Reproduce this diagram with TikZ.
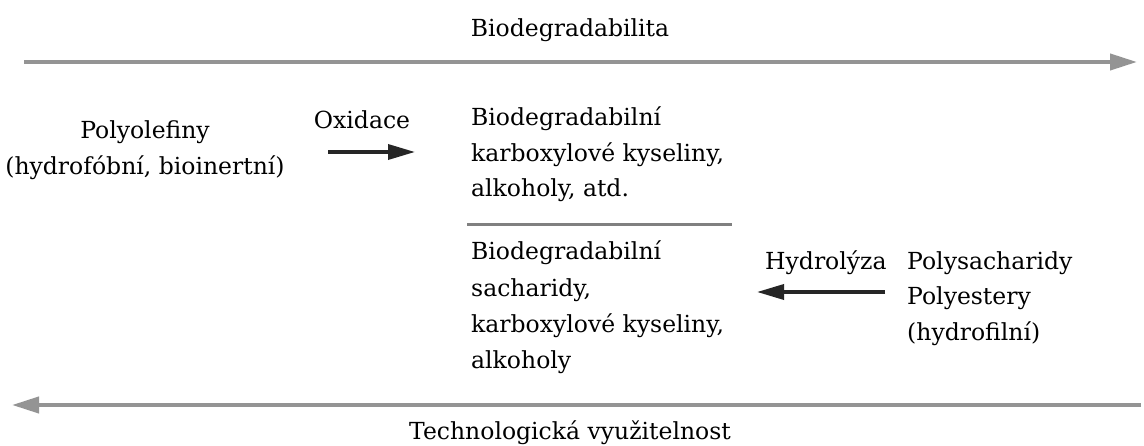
\documentclass[tikz,border=0pt]{standalone}
\usepackage{fontspec}
\setmainfont{DejaVu Serif}
\usetikzlibrary{arrows.meta}
\begin{document}
\begin{tikzpicture}[x=1pt,y=-1pt,
  txt/.style={inner sep=0pt, font=\fontsize{23.5}{35.5}\selectfont},
  bigarrow/.style={draw=black!42, line width=4pt, -{Triangle[length=27pt,width=16pt]}},
  smallarrow/.style={draw=black!85, line width=3.5pt, -{Triangle[length=27pt,width=15pt]}},
  sepline/.style={draw=black!50, line width=3pt}]
\useasboundingbox[fill=white] (0,0) rectangle (1144,446);

\node[txt] (bio) at (570,30) {Biodegradabilita};
\coordinate (t1) at (24,62);
\coordinate (t2) at (1137,62);
\draw[bigarrow] (t1) -- (t2);

\node[txt, align=center] (poly) at (145,150) {Polyolefiny\\(hydrofóbní, bioinertní)};
\node[txt] (ox) at (362,120) {Oxidace};
\coordinate (o1) at (328,152);
\coordinate (o2) at (415,152);
\draw[smallarrow] (o1) -- (o2);

\node[txt, align=left, anchor=north west] (top) at (471,107) {Biodegradabilní\\karboxylové kyseliny,\\alkoholy, atd.};
\coordinate (s1) at (467,225);
\coordinate (s2) at (732,225);
\draw[sepline] (s1) -- (s2);
\node[txt, align=left, anchor=north west, font=\fontsize{23.5}{36.2}\selectfont] (bot) at (471,241) {Biodegradabilní\\sacharidy,\\karboxylové kyseliny,\\alkoholy};

\node[txt, anchor=base west] (hyd) at (765,270) {Hydrolýza};
\node[txt, align=left, anchor=north west] (ps) at (907,251) {Polysacharidy\\Polyestery\\(hydrofilní)};
\coordinate (h1) at (885,292);
\coordinate (h2) at (757,292);
\draw[smallarrow] (h1) -- (h2);

\coordinate (b1) at (1141,405);
\coordinate (b2) at (12,405);
\draw[bigarrow] (b1) -- (b2);
\node[txt] (tech) at (570,433) {Technologická využitelnost};
\end{tikzpicture}
\end{document}
